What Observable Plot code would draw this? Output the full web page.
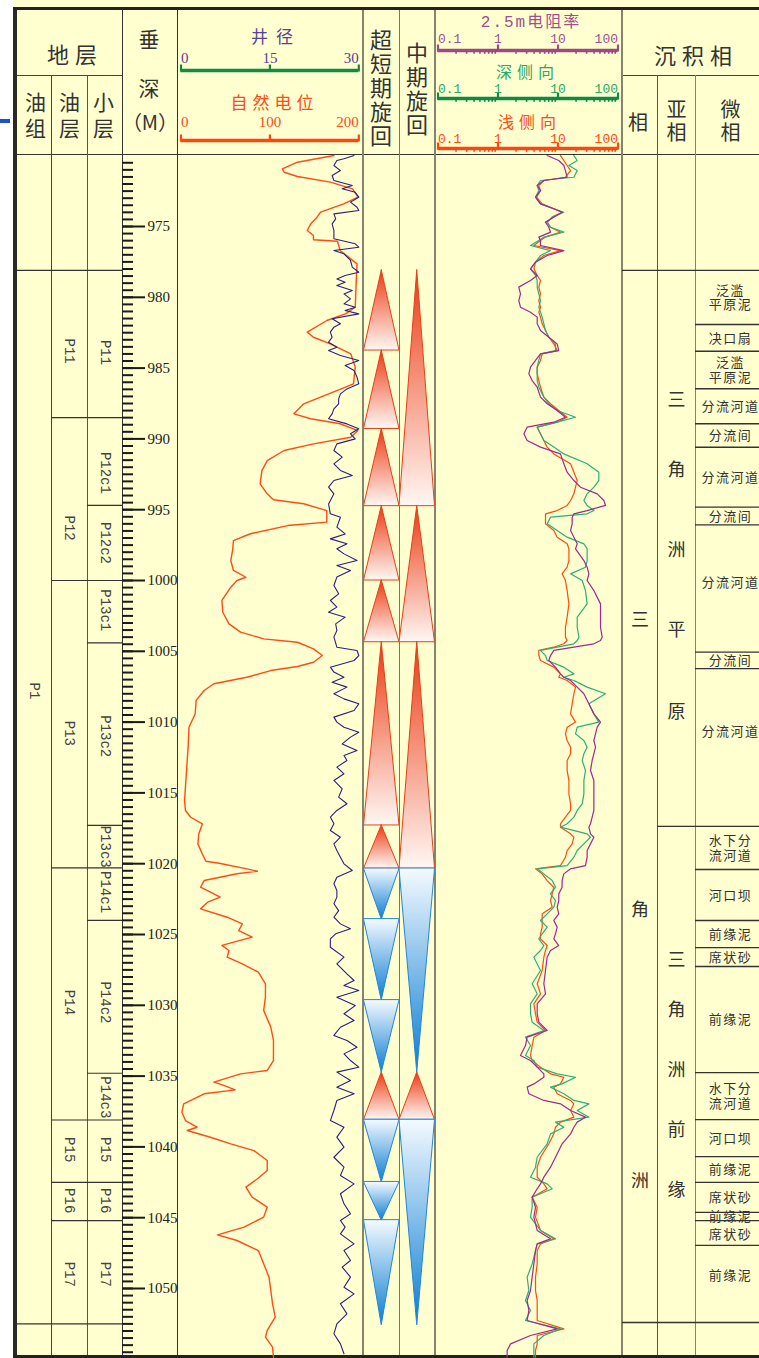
<!DOCTYPE html>
<html><head><meta charset="utf-8">
<script src="https://cdn.jsdelivr.net/npm/d3@7"></script>
<script src="https://cdn.jsdelivr.net/npm/@observablehq/plot@0.6"></script>
<style>
html,body{margin:0;padding:0;background:#fff;overflow:hidden;}
#root{position:relative;width:759px;height:1358px;background:#ffffcf;overflow:hidden;font-family:"Noto Sans CJK SC",sans-serif;color:#333;}
.lab{position:absolute;transform:translate(-50%,-50%);white-space:nowrap;line-height:1;text-align:center;}
.vert{writing-mode:vertical-rl;text-orientation:upright;}
.ln{position:absolute;}
.micro text{letter-spacing:1.5px;}
</style></head>
<body>
<svg width="0" height="0" style="position:absolute">
<defs>
<linearGradient id="gUp" x1="0" y1="0" x2="0" y2="1"><stop offset="0" stop-color="#ec3b12"/><stop offset="1" stop-color="#fff7f3"/></linearGradient>
<linearGradient id="gDown" x1="0" y1="0" x2="0" y2="1"><stop offset="0" stop-color="#f4faff"/><stop offset="1" stop-color="#0a7dd2"/></linearGradient>
</defs></svg>
<div id="root"></div>
<script>
// ---------------- DATA ----------------
const depthLabels = [975,980,985,990,995,1000,1005,1010,1015,1020,1025,1030,1035,1040,1045,1050];

const groupNames = ["P1"];
const groupTop = [978.1];
const groupBottom = [1052.5];
const groupLabelDepth = [1007.8];

const layerNames = ["P11","P12","P13","P14","P15","P16","P17"];
const layerTop = [978.1, 988.5, 1000.0, 1020.3, 1038.1, 1042.5, 1045.2];
const layerBottom = [988.5, 1000.0, 1020.3, 1038.1, 1042.5, 1045.2, 1052.5];
const layerLabelDepth = [983.8, 996.3, 1010.8, 1029.8, 1040.2, 1043.8, 1049.0];

const subLayerNames = ["P11","P12c1","P12c2","P13c1","P13c2","P13c3","P14c1","P14c2","P14c3","P15","P16","P17"];
const subLayerTop = [978.1, 988.5, 994.7, 1000.0, 1004.4, 1017.3, 1020.3, 1024.0, 1034.8, 1038.1, 1042.5, 1045.2];
const subLayerBottom = [988.5, 994.7, 1000.0, 1004.4, 1017.3, 1020.3, 1024.0, 1034.8, 1038.1, 1042.5, 1045.2, 1052.5];
const subLayerLabelDepth = [983.9, 992.4, 997.35, 1002.1, 1011.0, 1018.8, 1022.0, 1029.8, 1036.5, 1040.2, 1043.8, 1049.0];

// SP (自然电位, 0-200)
const spDepth = [969.99,970.46,970.93,971.17,971.47,971.87,972.34,972.93,973.40,973.99,974.34,974.81,975.28,975.64,975.94,976.04,976.69,977.64,979.05,980.70,981.17,981.64,982.46,982.82,983.29,983.99,984.93,986.11,986.58,987.52,988.23,988.58,988.93,989.41,989.88,990.35,990.82,991.53,992.24,993.17,993.88,994.30,994.58,995.06,995.88,996.12,996.70,997.18,997.88,998.59,999.29,999.77,1000.00,1000.47,1001.41,1002.24,1003.06,1003.65,1004.12,1004.36,1004.83,1005.30,1005.77,1006.07,1006.36,1006.83,1007.29,1007.77,1008.47,1009.41,1010.36,1011.77,1013.65,1015.54,1016.24,1016.72,1017.19,1017.90,1018.60,1019.31,1019.83,1019.97,1020.37,1020.53,1020.71,1021.19,1021.66,1022.13,1022.36,1022.72,1023.19,1023.78,1024.25,1024.72,1025.19,1025.77,1026.13,1026.60,1027.07,1027.66,1028.48,1029.42,1030.36,1031.54,1032.48,1033.90,1034.60,1034.84,1035.43,1035.66,1035.97,1036.25,1036.96,1037.55,1038.14,1038.61,1038.84,1039.32,1039.79,1040.26,1040.96,1041.67,1042.25,1042.84,1043.55,1044.25,1044.96,1045.67,1046.21,1046.61,1047.32,1048.26,1049.20,1050.14,1051.08,1052.02,1052.96,1053.44,1054.14,1054.85];
const spValue = [172,131,114,116,131,168,193,199,183,157,153,146,142,149,149,176,179,198,197,196,185,164,142,149,168,191,196,194,176,138,127,146,179,199,191,149,116,97,91,89,97,104,138,164,164,120,78,59,58,56,59,73,63,56,46,47,54,67,93,131,149,159,149,131,101,74,37,26,17,16,9,8,6,4,5,11,24,20,19,24,28,43,74,86,63,26,22,37,44,30,22,52,69,65,80,46,54,52,69,87,95,95,93,101,104,104,97,67,37,48,61,26,3,1,5,18,7,33,56,82,97,97,86,73,80,97,93,71,41,63,87,93,99,101,103,106,97,95,103,104];

// Caliper (井径, 0-30)
const calDepth = [969.99,970.22,970.34,970.69,971.05,971.40,971.75,972.11,972.34,972.58,972.93,973.28,973.64,973.87,974.11,974.46,974.81,975.28,975.87,976.22,976.46,976.70,976.93,977.40,977.87,978.23,978.46,978.70,978.93,979.17,979.52,979.76,980.11,980.46,980.70,980.93,981.17,981.52,981.87,982.11,982.46,982.82,983.17,983.52,983.76,984.11,984.46,984.82,985.17,985.64,986.11,986.47,986.82,987.17,987.52,987.88,988.23,988.58,988.94,989.29,989.64,990.00,990.35,990.82,991.29,991.76,992.23,992.59,992.94,993.41,993.88,994.59,995.29,995.53,996.23,996.71,997.06,997.41,997.76,
998.12,998.59,998.94,999.29,999.76,1000.35,1000.94,1001.41,1001.88,1002.24,1002.59,1003.06,1003.53,1004.00,1004.71,1004.94,1005.30,1005.65,1006.12,1006.47,1006.83,1007.18,1007.53,1008.00,1008.36,1008.71,1009.18,1009.65,1010.00,1010.36,1010.71,1011.06,1011.54,1012.01,1012.36,1012.71,1013.18,1013.65,1014.12,1014.71,1015.30,1015.77,1016.24,1016.71,1017.18,1017.66,1018.13,1018.60,1019.07,1019.54,1020.01,1020.48,1020.95,1021.42,1021.89,1022.36,1022.83,1023.31,1023.78,1024.25,1024.60,1024.95,1025.31,
1025.90,1026.60,1027.07,1027.78,1028.25,1028.60,1028.96,1029.43,1030.02,1030.60,1031.07,1031.55,1032.13,1032.49,1032.96,1033.43,1033.90,1034.37,1034.72,1035.31,1035.78,1036.25,1036.72,1037.43,1038.14,1038.61,1039.31,1040.02,1040.73,1041.43,1042.02,1042.61,1043.31,1044.02,1044.73,1045.20,1045.67,1046.14,1046.85,1047.32,1048.02,1048.49,1049.20,1049.91,1050.38,1051.08,1051.79,1052.50,1053.20,1053.91,1054.61];
const calValue = [29.2,27.5,26.3,25.8,26.9,25.5,25.8,28.9,27.2,29.4,30,28.6,29.7,30,25.8,26.1,25.5,25.8,25.8,29.4,30,25.8,27.5,28.6,28.9,30,27.7,26.3,27.7,26.3,28.9,27.5,28.6,27.5,29.4,27.7,30,25.5,26.9,25.8,25.2,25.5,24.9,26.3,24.9,26.9,30,27.7,29.2,29.7,30,28,26.9,26.6,26.6,25.8,25.5,24.9,28,30,28.6,29.4,26.3,25.8,27.2,25.8,26.9,28.9,25.8,24.9,25.8,24.9,25.2,26.9,26.3,27.7,25.2,28,26.3,
27.5,29.7,26.3,28.6,26.3,25.8,26.6,25.2,26.3,24.9,27.7,26.1,26.3,25.8,26.3,29.7,30,29.2,25.2,25.8,27.5,25.5,28,25.8,27.5,30,29.2,25.8,26.3,27.5,30,28.6,27.2,29.7,27.5,28,26.3,27.5,25.8,27.2,26.6,28,26.3,25.2,25.8,25.2,26.9,25.8,26.3,26.9,27.5,28.9,26.3,25.8,26.3,26.3,25.8,26.6,25.8,26.9,28.6,26.1,25.2,
25.2,27.5,26.3,28,29.2,27.5,30,26.3,29.4,27.5,29.2,26.9,25.8,28,29.7,27.5,28.6,30,26.3,28.6,26.3,29.2,26.3,25.8,25.2,27.5,26.3,27.5,25.8,27.5,26.9,29.2,26.9,27.5,28.6,26.9,27.7,26.9,29.2,27.5,28.6,27.2,28.6,27.5,29.2,26.9,28,26.3,25.8,26.9,27.5];

// Resistivity (ohm·m): 2.5m, deep laterolog, shallow laterolog
const resDepth = [969.99,970.34,970.69,971.05,971.52,971.75,972.11,972.46,972.93,973.40,973.75,973.99,974.34,974.69,975.05,975.40,975.75,975.99,976.34,976.70,977.05,977.52,977.99,978.46,978.81,979.28,979.76,980.23,980.70,981.05,981.40,981.87,982.35,982.82,983.29,983.76,983.99,984.46,984.93,985.40,985.88,986.35,987.05,987.52,987.99,988.47,988.82,989.17,989.64,990.11,990.58,991.06,991.76,992.35,992.94,993.41,993.88,994.35,994.70,995.06,995.29,995.53,996.00,996.47,996.94,997.41,997.76,
998.59,999.06,999.53,1000.00,1000.71,1001.65,1002.59,1003.30,1004.00,1004.24,1004.47,1004.71,1004.94,1005.30,1005.65,1006.12,1006.59,1006.83,1007.06,1007.53,1008.00,1008.71,1009.42,1010.00,1010.36,1010.83,1011.30,1011.77,1012.24,1012.71,1013.42,1014.12,1015.07,1015.77,1016.24,1016.71,1017.18,1017.42,1017.89,1018.13,1018.60,1019.07,1019.54,1020.13,1020.36,1020.72,1021.19,1021.66,1022.13,1022.60,1023.07,1023.54,1024.01,1024.48,1024.95,1025.31,
1025.78,1026.13,1026.60,1027.54,1028.48,1029.19,1029.90,1030.60,1031.19,1031.78,1032.25,1032.84,1033.55,1033.90,1034.37,1034.84,1035.08,1035.55,1035.78,1036.25,1036.72,1036.96,1037.43,1037.90,1038.25,1038.61,1039.08,1039.78,1040.73,1041.43,1042.14,1042.61,1042.96,1043.55,1044.26,1044.96,1045.90,1046.49,1046.85,1047.32,1048.26,1049.20,1050.14,1050.85,1051.55,1052.26,1052.85,1053.32,1053.91,1054.38,1054.85];
const res25 = [6.6,10.3,12.5,13.3,14.2,5.81,4.5,5.11,4.22,5.11,8.52,11.7,8.52,6.19,7.03,7.5,4.79,5.11,5.11,12.5,6.6,4.22,3.48,4.5,3.48,2.22,2.37,2.22,2.37,3.48,4.5,4.5,5.11,7.03,9.69,10.3,5.11,4.22,3.48,3.27,3.71,4.5,5.11,6.6,9.69,13.3,8.52,3.06,2.7,3.06,5.11,11.0,12.5,14.2,18.4,23.7,45.0,58.1,61.9,30.6,18.4,17.2,17.2,16.2,18.4,20.9,19.6,
27.0,30.6,32.7,30.6,39.6,51.1,51.1,51.1,54.5,51.1,39.6,18.4,8.52,7.5,7.03,9.09,11.0,12.5,16.2,20.9,27.0,32.7,39.6,51.1,45.0,42.2,39.6,42.2,39.6,37.1,34.8,39.6,39.6,39.6,39.6,37.1,34.8,32.7,34.8,39.6,34.8,30.6,30.6,28.7,16.2,12.5,11.7,11.7,10.3,10.3,9.69,10.3,8.52,9.69,9.09,8.52,
10.3,7.5,6.6,6.19,5.81,6.19,4.5,4.5,4.79,6.6,3.06,2.87,2.37,3.48,4.5,5.81,5.81,3.96,3.06,3.27,5.81,11.0,16.2,28.7,20.9,18.4,16.2,11.7,9.09,7.5,5.81,5.11,4.5,3.71,4.22,3.96,4.5,7.5,4.5,4.22,3.96,3.71,3.48,3.06,3.27,3.06,9.69,3.48,1.62,1.42,1.42];
const resDeep = [18.4,20.9,15.2,20.9,18.4,5.11,4.5,4.79,4.22,5.11,8.52,12.5,8.0,6.6,7.5,12.5,5.81,4.79,3.48,7.5,5.11,4.22,3.48,4.22,4.5,4.5,4.79,5.11,4.79,5.11,5.45,5.81,6.19,7.03,9.09,9.09,5.11,4.79,4.5,4.5,4.5,4.79,5.81,7.03,9.69,19.6,9.69,4.5,5.11,5.81,8.52,12.5,30.6,47.9,47.9,39.6,30.6,27.0,30.6,39.6,30.6,7.5,6.6,9.69,14.2,27.0,30.6,
30.6,28.7,16.2,25.3,28.7,30.6,20.9,20.9,22.3,20.9,18.4,9.69,5.11,6.19,6.6,12.5,18.4,12.5,18.4,30.6,61.9,32.7,39.6,47.9,20.9,19.6,27.0,30.6,27.0,25.3,28.7,27.0,27.0,25.3,20.9,18.4,14.2,11.0,30.6,34.8,27.0,20.9,18.4,14.2,4.5,5.81,8.0,9.09,7.5,9.09,8.52,6.6,5.11,6.6,5.45,4.79,
5.81,5.11,3.96,5.11,3.71,4.5,3.48,3.48,3.71,5.81,2.87,3.48,2.87,3.96,4.5,9.69,19.6,11.7,7.5,12.5,18.4,32.7,20.9,32.7,9.09,12.5,7.5,6.6,4.5,4.22,3.48,6.6,8.0,3.71,3.71,3.48,5.11,9.09,4.5,4.22,3.71,3.06,3.27,2.87,3.48,2.87,11.0,5.81,3.96,3.96,3.96];
const resShallow = [11.0,12.5,14.2,16.2,13.3,5.81,4.79,5.11,4.4,5.45,8.52,11.7,8.0,6.6,7.5,11.0,6.19,5.11,3.96,11.0,5.81,4.22,3.96,4.5,5.11,4.79,5.11,4.79,5.11,4.79,5.11,5.45,6.19,7.03,8.52,9.69,5.45,5.11,4.5,4.5,4.79,5.11,5.81,7.5,10.3,14.2,9.69,4.5,5.11,5.81,6.6,8.52,16.2,18.4,20.9,19.6,18.4,16.2,14.2,9.69,6.19,6.19,6.19,8.52,9.69,14.2,15.2,
15.2,14.2,11.7,13.3,14.2,15.2,14.2,13.3,13.3,14.2,12.5,8.52,4.79,4.79,5.11,8.52,11.0,10.3,14.2,19.6,18.4,17.2,16.2,19.6,14.2,13.3,14.2,16.2,16.2,14.2,14.2,15.2,15.2,16.2,16.2,13.3,11.0,11.0,16.2,18.4,17.2,14.2,13.3,11.0,4.22,5.45,6.6,8.52,8.0,7.5,8.0,5.45,5.45,5.45,5.11,5.11,
6.6,6.19,5.81,5.45,4.5,5.11,3.96,4.22,4.5,6.19,3.96,3.71,3.48,3.71,5.11,7.5,12.5,11.0,8.52,9.69,16.2,18.4,16.2,18.4,11.0,9.09,8.52,7.03,5.11,4.5,4.5,5.81,6.6,3.71,4.5,4.22,5.11,8.52,5.11,4.5,4.5,4.22,4.22,4.5,4.5,4.5,12.5,4.5,4.5,4.22,4.22];

// Cycles
const ultraTop    = [978.1, 983.76, 989.3, 994.75, 1000.0, 1004.36, 1017.3, 1020.36, 1023.94, 1029.66, 1034.75, 1038.1, 1042.5, 1045.2];
const ultraBottom = [983.76, 989.3, 994.75, 1000.0, 1004.36, 1017.3, 1020.36, 1023.94, 1029.66, 1034.75, 1038.1, 1042.5, 1045.2, 1052.6];
const ultraType   = ["up","up","up","up","up","up","up","down","down","down","up","down","down","down"];
const midTop    = [978.1, 994.75, 1004.36, 1020.36, 1034.75, 1038.1];
const midBottom = [994.75, 1004.36, 1020.36, 1034.75, 1038.1, 1052.6];
const midType   = ["up","up","up","down","up","down"];

// Sedimentary facies
const faciesNames = ["三角洲"];
const faciesTop = [978.1];
const faciesBottom = [1052.4];
const faciesCharDepth = [[1002.8, 1023.3, 1042.4]];

const subFaciesNames = ["三角洲平原","三角洲前缘"];
const subFaciesTop = [978.1, 1017.37];
const subFaciesBottom = [1017.37, 1052.4];
const subFaciesCharDepth = [[987.29, 992.23, 997.88, 1003.53, 1009.32], [1026.84, 1030.37, 1034.6, 1038.84, 1043.08]];

const microNames = ["泛滥\n平原泥","决口扇","泛滥\n平原泥","分流河道","分流间","分流河道","分流间","分流河道","分流间","分流河道","水下分\n流河道","河口坝","前缘泥","席状砂","前缘泥","水下分\n流河道","河口坝","前缘泥","席状砂","前缘泥","席状砂","前缘泥"];
const microTop = [978.1, 981.92, 983.81, 986.46, 988.93, 990.59, 994.82, 996.07, 1005.06, 1006.22, 1017.37, 1020.41, 1024.01, 1025.92, 1027.26, 1034.75, 1038.07, 1040.68, 1042.51, 1044.63, 1045.2, 1046.96];
const microBottom = [981.92, 983.81, 986.46, 988.93, 990.59, 994.82, 996.07, 1005.06, 1006.22, 1017.37, 1020.41, 1024.01, 1025.92, 1027.26, 1034.75, 1038.07, 1040.68, 1042.51, 1044.63, 1045.2, 1046.96, 1052.4];
const microLabelDepth = [980.01, 982.87, 985.14, 987.70, 989.76, 992.71, 995.45, 1000.14, 1005.64, 1010.66, 1018.89, 1022.21, 1024.97, 1026.59, 1031.0, 1036.41, 1039.38, 1041.6, 1043.57, 1044.92, 1046.15, 1049.1];

// Header scale ticks
const calTicks = [0, 15, 30];
const spTicks = [0, 100, 200];
const resTicks = [0.1, 1, 10, 100];
const resMinorTicks = [0.2,0.3,0.4,0.5,0.6,0.7,0.8,0.9,2,3,4,5,6,7,8,9,20,30,40,50,60,70,80,90];

// ---------------- LAYOUT ----------------
const root = document.getElementById("root");
const Y_TOP = 155, PLOT_H = 1203;
const yScale = {domain: [970, 1055], range: [0.2, 1203.8], axis: null};
const CJK = "Noto Sans CJK SC";

function line(x, y, w, h, color) {
  const d = document.createElement("div");
  d.className = "ln";
  Object.assign(d.style, {left: x + "px", top: y + "px", width: w + "px", height: h + "px", background: color});
  root.appendChild(d);
}
function label(html, x, y, size, color = "#333", ls = 0) {
  const d = document.createElement("div");
  d.className = "lab";
  d.innerHTML = html;
  Object.assign(d.style, {left: x + "px", top: y + "px", fontSize: size + "px", color, letterSpacing: ls + "px", paddingLeft: ls + "px"});
  root.appendChild(d);
}
function vlabel(text, x, y, size, ls, color = "#333") {
  const d = document.createElement("div");
  d.className = "lab vert";
  d.textContent = text;
  Object.assign(d.style, {left: x + "px", top: y + "px", fontSize: size + "px", color, letterSpacing: ls + "px", paddingTop: ls + "px"});
  root.appendChild(d);
}
function mk(opts, left, top) {
  const svg = Plot.plot({margin: 0, ...opts});
  svg.style.position = "absolute";
  svg.style.left = left + "px";
  svg.style.top = top + "px";
  svg.style.background = "transparent";
  svg.style.overflow = "visible";
  svg.style.maxWidth = "none";
  root.appendChild(svg);
  return svg;
}

// frame & grid
line(0, 0, 13, 1358, "#ffffff");
line(0, 119, 10, 4, "#1d4fd3");
line(13, 7, 4, 1351, "#2a2a22");
line(13, 7, 746, 3, "#222");
line(13, 1355, 746, 3, "#222");
line(17, 75, 105, 1, "#444");
line(622, 75, 137, 1, "#444");
line(17, 153.5, 742, 1.5, "#333");
line(50.5, 75, 1, 1280, "#444");
line(86.5, 75, 1, 1280, "#555");
line(121.5, 10, 1.3, 1345, "#333");
line(176.5, 10, 1.3, 1345, "#333");
line(362, 10, 2, 1345, "#85856f");
line(398.5, 10, 1.3, 1345, "#77776a");
line(434, 10, 2, 1345, "#85856f");
line(621, 10, 2, 1345, "#85856f");
line(656.5, 75, 1.3, 1280, "#555");
line(694.5, 75, 1.6, 1280, "#85856f");

// strat columns
function stratPlot(names, tops, bottoms, labelDepths, left, width) {
  const bounds = Array.from(new Set([...tops, ...bottoms]));
  return mk({width, height: PLOT_H, y: yScale, marks: [
    Plot.ruleY(bounds, {y: d => d, stroke: "#333", strokeWidth: 1.2}),
    Plot.text(names, {y: (d, i) => labelDepths[i], text: d => d, rotate: 90, fontSize: 14, fontFamily: "Liberation Mono", fill: "#444"})
  ]}, left, Y_TOP);
}
stratPlot(groupNames, groupTop, groupBottom, groupLabelDepth, 17, 34);
stratPlot(layerNames, layerTop, layerBottom, layerLabelDepth, 51, 36);
stratPlot(subLayerNames, subLayerTop, subLayerBottom, subLayerLabelDepth, 87, 35);

// depth axis
const minorTicks = d3.range(970.5, 1055, 0.5);
mk({width: 55, height: PLOT_H, y: yScale, marks: [
  Plot.tickY(minorTicks, {y: d => d, insetRight: 44, stroke: "#1a1a1a", strokeWidth: 2}),
  Plot.tickY(depthLabels, {y: d => d, insetRight: 32, stroke: "#1a1a1a", strokeWidth: 2}),
  Plot.text(depthLabels, {y: d => d, text: d => String(d), frameAnchor: "left", dx: 25, textAnchor: "start", fontSize: 15, fontFamily: "Liberation Serif", fill: "#222"})
]}, 122, Y_TOP);

// track 1: SP + caliper
const spData = spDepth.map((d, i) => ({d, v: spValue[i]}));
const calData = calDepth.map((d, i) => ({d, v: calValue[i]}));
mk({width: 186, height: PLOT_H, x: {domain: [0, 200], range: [3.5, 181.3], axis: null}, y: yScale, marks: [
  Plot.line(spData, {x: "v", y: "d", stroke: "#ff4a1a", strokeWidth: 1.4})
]}, 177, Y_TOP);
mk({width: 186, height: PLOT_H, x: {domain: [0, 30], range: [3.5, 181.3], axis: null}, y: yScale, marks: [
  Plot.line(calData, {x: "v", y: "d", stroke: "#2a1f80", strokeWidth: 1.1})
]}, 177, Y_TOP);

// cycles
function triRows(tops, bottoms, types, col, prefix) {
  const rows = [];
  tops.forEach((t, i) => {
    const b = bottoms[i], id = prefix + i, up = types[i] === "up";
    if (up) rows.push({id, up, d: t, x1: col + 0.5, x2: col + 0.5}, {id, up, d: b, x1: col, x2: col + 1});
    else rows.push({id, up, d: t, x1: col, x2: col + 1}, {id, up, d: b, x1: col + 0.5, x2: col + 0.5});
  });
  return rows;
}
const tri = [...triRows(ultraTop, ultraBottom, ultraType, 0, "u"), ...triRows(midTop, midBottom, midType, 1, "m")];
mk({width: 72, height: PLOT_H, x: {domain: [0, 2], range: [0.5, 71.5], axis: null}, y: yScale, marks: [
  Plot.areaX(tri.filter(d => d.up), {y: "d", x1: "x1", x2: "x2", z: "id", fill: "url(#gUp)", stroke: "#e5401a", strokeWidth: 1}),
  Plot.areaX(tri.filter(d => !d.up), {y: "d", x1: "x1", x2: "x2", z: "id", fill: "url(#gDown)", stroke: "#2386d8", strokeWidth: 1})
]}, 363, Y_TOP);

// resistivity
const resData = resDepth.map((d, i) => ({d, r25: res25[i], deep: resDeep[i], shallow: resShallow[i]}));
mk({width: 187, height: PLOT_H, x: {type: "log", domain: [0.1, 100], range: [2.5, 182.5], axis: null}, y: yScale, marks: [
  Plot.line(resData, {x: "shallow", y: "d", stroke: "#ff4a12", strokeWidth: 1.2}),
  Plot.line(resData, {x: "deep", y: "d", stroke: "#27b07a", strokeWidth: 1.2}),
  Plot.line(resData, {x: "r25", y: "d", stroke: "#a0288e", strokeWidth: 1.2})
]}, 435, Y_TOP);

// facies (相, 亚相): one character per line
function charPlot(names, tops, bottoms, charDepths, left, width) {
  const bounds = Array.from(new Set([...tops, ...bottoms]));
  const chars = names.flatMap((n, i) => n.split("").map((c, j) => ({c, d: charDepths[i][j]})));
  return mk({width, height: PLOT_H, y: yScale, marks: [
    Plot.ruleY(bounds, {y: d => d, stroke: "#333", strokeWidth: 1.3}),
    Plot.text(chars, {y: "d", text: "c", fontSize: 18, fontFamily: CJK, fill: "#333"})
  ]}, left, Y_TOP);
}
charPlot(faciesNames, faciesTop, faciesBottom, faciesCharDepth, 622, 35);
charPlot(subFaciesNames, subFaciesTop, subFaciesBottom, subFaciesCharDepth, 657, 38);

// 微相
mk({width: 70, height: PLOT_H, y: yScale, className: "micro", marks: [
  Plot.ruleY(Array.from(new Set([...microTop, ...microBottom])), {y: d => d, stroke: "#333", strokeWidth: 1.3}),
  Plot.text(microNames, {y: (d, i) => microLabelDepth[i], text: d => d, fontSize: 13, lineHeight: 1.12, fontFamily: CJK, fill: "#333"})
]}, 695, Y_TOP);

// header scale bars
function headerScale(left, width, xScale, ticks, minor, color, labelColor, labelY, barY, font, fontSize) {
  const dom = xScale.domain;
  const marks = [
    Plot.ruleY([barY], {y: d => d, x1: dom[0], x2: dom[1], stroke: color, strokeWidth: 3.5}),
    Plot.ruleX(ticks, {x: d => d, y1: barY - 5.5, y2: barY + 1.5, stroke: color, strokeWidth: 2.2})
  ];
  if (minor) marks.push(Plot.ruleX(minor, {x: d => d, y1: barY, y2: barY + 3.8, stroke: color, strokeWidth: 1.6}));
  const n = ticks.length;
  [["start", (d, i) => i === 0], ["middle", (d, i) => i > 0 && i < n - 1], ["end", (d, i) => i === n - 1]].forEach(([anchor, f]) => {
    marks.push(Plot.text(ticks, {filter: f, x: d => d, y: labelY, text: d => String(d), textAnchor: anchor, fill: labelColor, fontSize, fontFamily: font}));
  });
  mk({width, height: 155, x: {...xScale, axis: null}, y: {domain: [0, 155], range: [0, 155], axis: null}, marks}, left, 0);
}
headerScale(177, 186, {domain: [0, 30], range: [3.5, 181.3]}, calTicks, null, "#138a40", "#5a3c9a", 58, 70, "Liberation Serif", 15);
headerScale(177, 186, {domain: [0, 200], range: [3.5, 181.3]}, spTicks, null, "#ff4510", "#ff4a1a", 122, 140, "Liberation Serif", 15);
headerScale(435, 187, {type: "log", domain: [0.1, 100], range: [2.5, 182.5]}, resTicks, resMinorTicks, "#9c4a84", "#a0508c", 38, 50, "Liberation Mono", 13);
headerScale(435, 187, {type: "log", domain: [0.1, 100], range: [2.5, 182.5]}, resTicks, resMinorTicks, "#0f8a45", "#2aa865", 88, 98, "Liberation Mono", 13);
headerScale(435, 187, {type: "log", domain: [0.1, 100], range: [2.5, 182.5]}, resTicks, resMinorTicks, "#ff4510", "#ff4a12", 138, 148, "Liberation Mono", 13);

// header texts
label("地层", 72, 53, 22, "#333", 6);
vlabel("油组", 35, 115, 21, 5);
vlabel("油层", 69, 115, 21, 5);
vlabel("小层", 103, 115, 21, 5);
label("垂", 149, 38, 21); label("深", 149, 87, 21); label("（M）", 150, 122, 20);
label("井径", 272, 35, 17, "#54449a", 8);
label("自然电位", 272, 101, 17, "#ff4a1a", 5);
vlabel("超短期旋回", 381, 88, 22, 2);
vlabel("中期旋回", 417, 89, 22, 2);
label('<span style="font-family:Liberation Mono">2.5m</span>电阻率', 530, 21, 16, "#a0508c", 2);
label("深侧向", 525, 71, 16, "#2aa865", 5);
label("浅侧向", 527, 121, 16, "#ff4a12", 5);
label("沉积相", 693, 54, 22, "#333", 6);
label("相", 638, 122, 20);
vlabel("亚相", 676, 121, 20, 3);
vlabel("微相", 730, 121, 20, 3);
</script></body></html>
